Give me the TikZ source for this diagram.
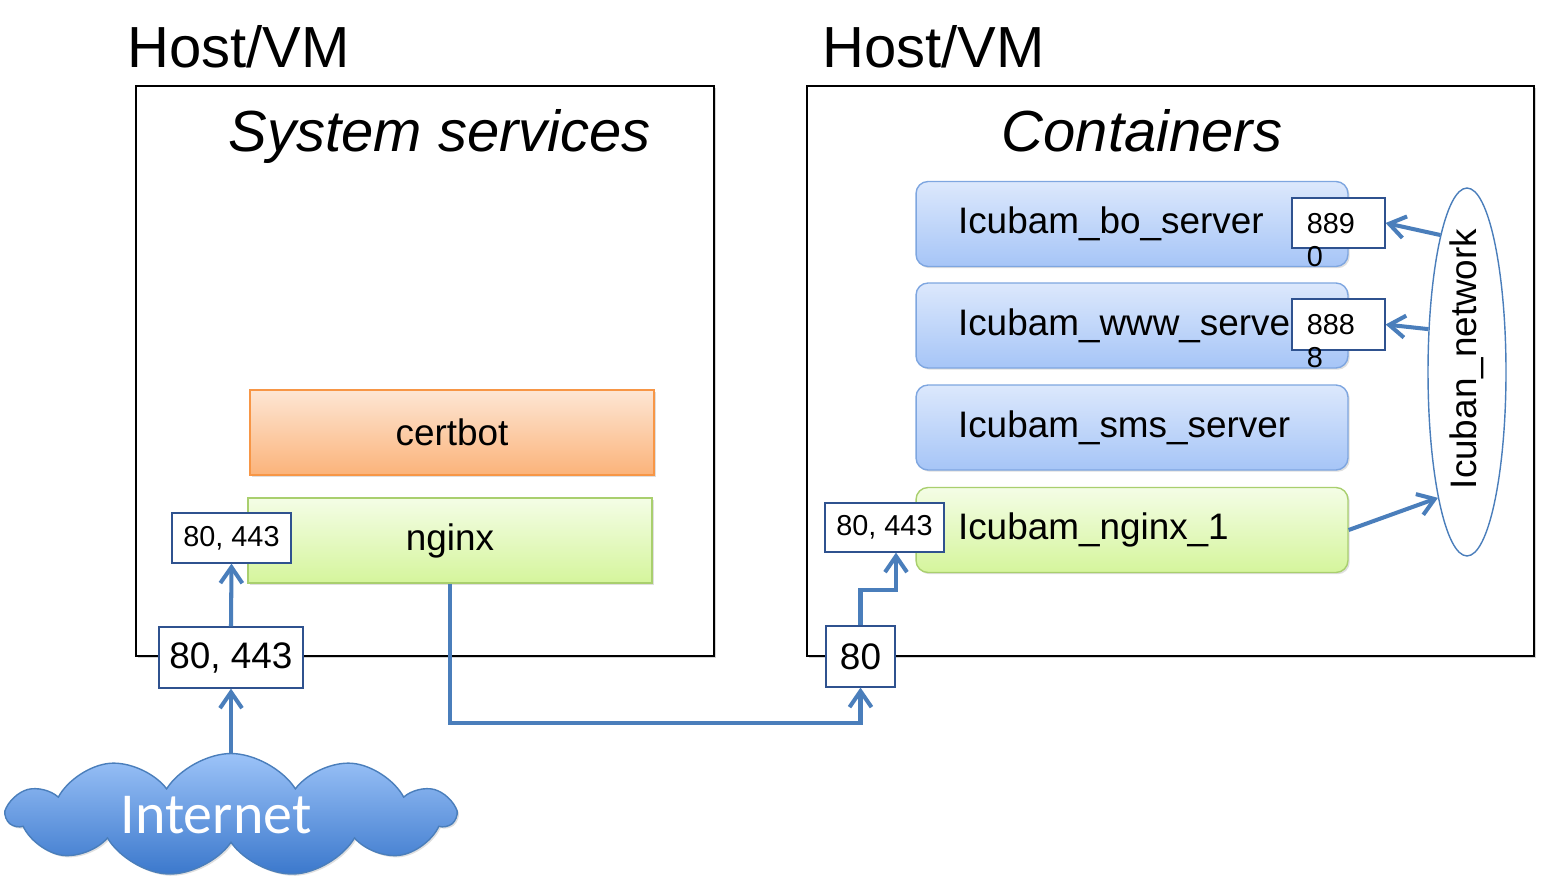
\documentclass[tikz,border=0pt]{standalone}
\usepackage{fontspec}
\setmainfont{Liberation Sans}
\newfontfamily\cloudfont{Carlito}
\usetikzlibrary{arrows.meta,calc,shapes.geometric,shapes.symbols,shadows}
\definecolor{linkblue}{HTML}{4A7EBB}
\definecolor{portline}{HTML}{2F528F}
\definecolor{ctTop}{HTML}{DCE8FC}
\definecolor{ctBot}{HTML}{A6C5F7}
\definecolor{ctLine}{HTML}{7EA6E0}
\definecolor{grTop}{HTML}{F4FDE6}
\definecolor{grBot}{HTML}{D5F59C}
\definecolor{grLine}{HTML}{A9CF6E}
\definecolor{orTop}{HTML}{FDE6D4}
\definecolor{orBot}{HTML}{FBB37A}
\definecolor{orLine}{HTML}{F79646}
\definecolor{clTop}{HTML}{9CC3F8}
\definecolor{clBot}{HTML}{3B78CC}
\tikzset{
  vmbox/.style={draw=black, line width=1pt, fill=white, drop shadow={shadow xshift=1.2pt, shadow yshift=-1.2pt, opacity=0.35}},
  svcbox/.style={draw, line width=0.8pt, minimum width=8.08cm, minimum height=1.7cm, font=\fontsize{21}{25}\selectfont, drop shadow={shadow xshift=1pt, shadow yshift=-1pt, opacity=0.25}},
  ctbox/.style={draw=#1, rounded corners=0.24cm, line width=0.8pt, minimum width=8.64cm, minimum height=1.7cm,
    text width=6.96cm, align=left, inner xsep=0.84cm, font=\fontsize{21}{25}\selectfont, drop shadow={shadow xshift=1pt, shadow yshift=-1pt, opacity=0.25}},
  portbox/.style={draw=portline, line width=0.7pt, fill=white, inner sep=0pt},
  smallport/.style={portbox, font=\fontsize{16.4}{19}\selectfont},
  bigport/.style={portbox, font=\fontsize{21}{25}\selectfont},
  title/.style={font=\fontsize{33}{38}\selectfont, inner sep=0pt},
  link/.style={draw=linkblue, line width=2.3pt, -{Straight Barb[length=3.2mm, width=4.4mm]}},
}
\begin{document}
\begin{tikzpicture}[x=0.02cm, y=-0.02cm]
			\useasboundingbox (0,0) rectangle (1542,888);
			
			%%%%% HOSTS %%%%%
			
			\node[title, anchor=base west] (hostL) at (127, 68) {Host/VM};
			\node[title, anchor=base west] (hostR) at (822, 68) {Host/VM};
			
			\node[vmbox, minimum width=11.56cm, minimum height=11.4cm] (vmL) at (425, 371) {};
			\node[vmbox, minimum width=14.54cm, minimum height=11.4cm] (vmR) at (1170.5, 371) {};
			
			\node[title, anchor=base, font=\fontsize{33}{38}\selectfont\itshape] (sys) at (440, 152) {System services};
			\node[title, anchor=base, font=\fontsize{33}{38}\selectfont\itshape] (cont) at (1142, 152) {Containers};
			
			%%%%% LEFT HOST %%%%%
			
			\node[svcbox, draw=orLine, top color=orTop, bottom color=orBot] (certbot) at (452, 432.5) {certbot};
			\node[svcbox, draw=grLine, top color=grTop, bottom color=grBot] (nginx) at (450, 540.5) {nginx};
			
			\node[smallport, minimum width=2.38cm, minimum height=1cm] (portA) at (231.5, 538) {80, 443};
			\node[bigport, minimum width=2.88cm, minimum height=1.22cm] (portB) at (231, 657.5) {80, 443};
			
			\node[cloud, cloud puffs=11, cloud puff arc=115, cloud ignores aspect, draw=linkblue, line width=0.8pt,
			      top color=clTop, bottom color=clBot,
			      minimum width=8.94cm, minimum height=2.46cm, text=white, font=\cloudfont\fontsize{33}{38}\selectfont,
			      drop shadow={shadow xshift=1pt, shadow yshift=-1pt, opacity=0.25}] (inet) at (231, 815) {Internet\hspace*{0.6cm}};
			
			%%%%% RIGHT HOST %%%%%
			
			\node[ctbox=ctLine, top color=ctTop, bottom color=ctBot] (bo) at (1132, 224) {Icubam\_bo\_server};
			\node[ctbox=ctLine, top color=ctTop, bottom color=ctBot] (www) at (1132, 325.5) {Icubam\_www\_server};
			\node[ctbox=ctLine, top color=ctTop, bottom color=ctBot] (sms) at (1132, 427.5) {Icubam\_sms\_server};
			\node[ctbox=grLine, top color=grTop, bottom color=grBot] (ngx1) at (1132, 530) {Icubam\_nginx\_1};
			
			\node[portbox, minimum width=1.86cm, minimum height=1cm] (p8890) at (1338.5, 223) {};
			\node[anchor=base west, inner sep=0pt, text width=1.2cm, align=left, font=\fontsize{16.4}{19}\selectfont] (t8890) at ($(p8890.north west)+(15,36)$) {889\\0};
			\node[portbox, minimum width=1.86cm, minimum height=1.02cm] (p8888) at (1338.5, 324.5) {};
			\node[anchor=base west, inner sep=0pt, text width=1.2cm, align=left, font=\fontsize{16.4}{19}\selectfont] (t8888) at ($(p8888.north west)+(15,36)$) {888\\8};
			
			\node[smallport, minimum width=2.38cm, minimum height=0.98cm] (portC) at (884.5, 527.5) {80, 443};
			\node[bigport, minimum width=1.38cm, minimum height=1.22cm] (port80) at (860.5, 656.5) {80};
			
			\node[ellipse, draw=linkblue, line width=0.8pt, fill=white, inner sep=0pt,
			      minimum width=1.56cm, minimum height=7.36cm, font=\fontsize{21}{25}\selectfont] (net) at (1467, 372)
			      {\rotatebox{90}{\makebox[0pt]{\hspace*{0.52cm}Icuban\_network}}};
			
			%%%%% LINKS %%%%%
			
			\coordinate (low) at (0, 723);
			\coordinate (bend) at (896, 590);
			
			\draw[link] (inet.north) -- (portB.south);
			\draw[link] (portB.north) -- (portA.south);
			\draw[link] (nginx.south) -- (nginx.south |- low) -| (port80.south);
			\draw[link] (port80.north) |- (bend) -- (bend |- portC.south);
			\draw[link] (net.101) -- (p8890.east);
			\draw[link] (net.132) -- (p8888.east);
			\draw[link] (ngx1.east) -- (net.257);
			
		\end{tikzpicture}
\end{document}
